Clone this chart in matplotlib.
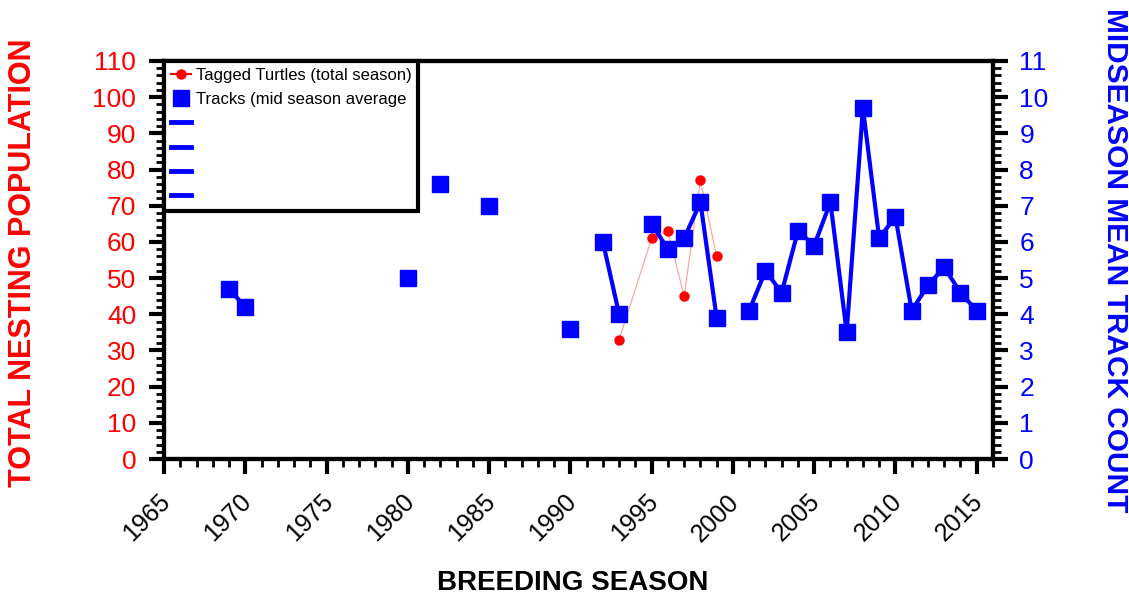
import numpy as np
import matplotlib
matplotlib.use('Agg')
import matplotlib.pyplot as plt
import matplotlib.transforms as mtransforms
from matplotlib.lines import Line2D
from matplotlib.ticker import MultipleLocator

# Tracks (mid season average) - right axis
track_years = [1969, 1970, 1980, 1982, 1985, 1990, 1992, 1993, 1995, 1996, 1997,
               1998, 1999, 2001, 2002, 2003, 2004, 2005, 2006, 2007, 2008, 2009,
               2010, 2011, 2012, 2013, 2014, 2015]
track_counts = [4.7, 4.2, 5.0, 7.6, 7.0, 3.6, 6.0, 4.0, 6.5, 5.8, 6.1,
                7.1, 3.9, 4.1, 5.2, 4.6, 6.3, 5.9, 7.1, 3.5, 9.7, 6.1,
                6.7, 4.1, 4.8, 5.3, 4.6, 4.1]

# Tagged turtles (total season) - left axis
tag_years = [1993, 1995, 1996, 1997, 1998, 1999]
tag_counts = [33, 61, 63, 45, 77, 56]

# break the track line where a season is missing
ty, tc = [], []
for i, (yr, v) in enumerate(zip(track_years, track_counts)):
    if i > 0 and yr - track_years[i - 1] > 1:
        ty.append(yr - 0.5)
        tc.append(np.nan)
    ty.append(yr)
    tc.append(v)

plt.rcParams['font.family'] = 'Liberation Sans'

fig = plt.figure(figsize=(11.29, 5.98), dpi=100)
ax = fig.add_axes([0.1453, 0.2324, 0.8795 - 0.1453, 0.898 - 0.2324])
ax2 = ax.twinx()

ax.plot(tag_years, tag_counts, color='#ff9999', lw=0.8, marker='o', ms=6.5,
        mfc='red', mec='red', zorder=3)
ax2.plot(ty, tc, color='blue', lw=3, marker='s', ms=11, mfc='blue', mec='blue',
         zorder=3)

ax.set_xlim(1965, 2016)
ax.set_ylim(0, 110)
ax2.set_ylim(0, 11)

for a in (ax, ax2):
    for s in a.spines.values():
        s.set_linewidth(3)
        s.set_color('black')

ax.xaxis.set_major_locator(MultipleLocator(5))
ax.xaxis.set_minor_locator(MultipleLocator(1))
ax.yaxis.set_major_locator(MultipleLocator(10))
ax.yaxis.set_minor_locator(MultipleLocator(2))
ax2.yaxis.set_major_locator(MultipleLocator(1))
ax2.yaxis.set_minor_locator(MultipleLocator(0.2))

ax.tick_params(axis='both', which='major', direction='out', length=11, width=3)
ax.tick_params(axis='both', which='minor', direction='out', length=6, width=2)
ax2.tick_params(axis='y', which='major', direction='out', length=11, width=3)
ax2.tick_params(axis='y', which='minor', direction='out', length=6, width=2)

ax.tick_params(axis='y', labelcolor='red', labelsize=19, pad=9)
ax2.tick_params(axis='y', labelcolor='blue', labelsize=19, pad=8)
ax.tick_params(axis='x', labelsize=18, pad=11)

ax.set_xticks(range(1965, 2016, 5))
shift = mtransforms.ScaledTranslation(-6 / 100, 0, fig.dpi_scale_trans)
for lbl in ax.get_xticklabels():
    lbl.set_rotation(45)
    lbl.set_ha('right')
    lbl.set_rotation_mode('anchor')
    lbl.set_transform(lbl.get_transform() + shift)

# axis titles
fig.text(573 / 1129, 1 - 583 / 598, 'BREEDING SEASON', fontsize=20,
         fontweight='bold', ha='center', va='center')
fig.text(23 / 1129, 1 - 263 / 598, 'TOTAL NESTING POPULATION', fontsize=22,
         fontweight='bold', color='red', rotation=90, ha='center', va='center')
fig.text(1115 / 1129, 1 - 260 / 598, 'MIDSEASON MEAN TRACK COUNT', fontsize=21.5,
         fontweight='bold', color='blue', rotation=-90, ha='center',
         va='center')

# legend
handles = [
    Line2D([], [], color='red', lw=1.5, marker='o', ms=6.5),
    Line2D([], [], color='blue', lw=0, marker='s', ms=11),
]
labels = ['Tagged Turtles (total season)', 'Tracks (mid season average']
for _ in range(4):
    handles.append(Line2D([], [], color='blue', lw=3.5))
    labels.append('')
leg = ax2.legend(handles, labels, loc='upper left', fontsize=12,
                 frameon=True, fancybox=False, framealpha=1,
                 edgecolor='black', borderaxespad=0, handlelength=1.2,
                 handletextpad=0.3, labelspacing=0.56, borderpad=0.4)
leg.get_frame().set_linewidth(3)
leg.set_zorder(5)

fig.savefig('out.png', dpi=100, facecolor='white')
